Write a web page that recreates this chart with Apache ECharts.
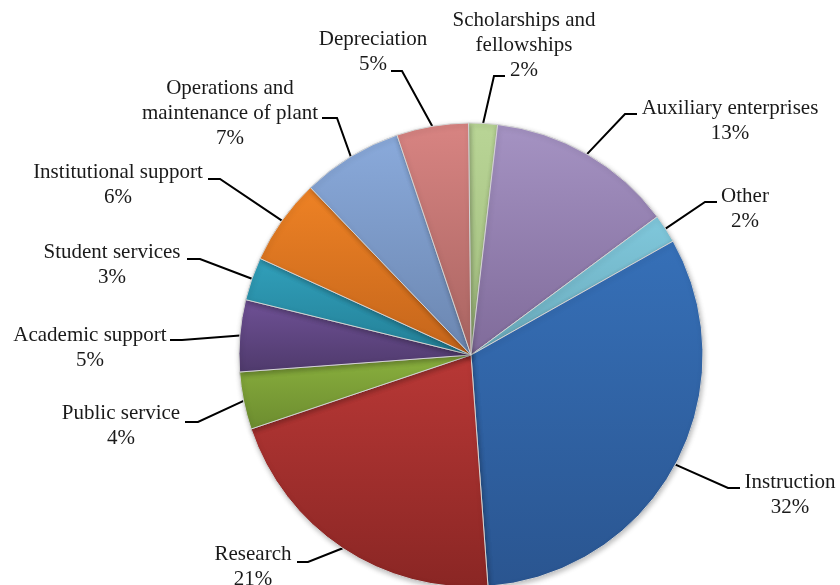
<!DOCTYPE html>
<html>
<head>
<meta charset="utf-8">
<script src="https://cdn.jsdelivr.net/npm/echarts@6/dist/echarts.min.js"></script>
<style>
  html, body { margin: 0; padding: 0; background: #ffffff; }
  #chart { width: 840px; height: 585px; }
</style>
</head>
<body>
<div id="chart"></div>
<script>
// Expense categories, clockwise from 12 o'clock
const categories = [
  'Scholarships and fellowships',
  'Auxiliary enterprises',
  'Other',
  'Instruction',
  'Research',
  'Public service',
  'Academic support',
  'Student services',
  'Institutional support',
  'Operations and maintenance of plant',
  'Depreciation'
];
// Share of total expenses, percent
const shares = [2, 13, 2, 32, 21, 4, 5, 3, 6, 7, 5];

// Manual line breaks for the long names
const labelBreaks = {
  'Scholarships and fellowships': 'Scholarships and\nfellowships',
  'Operations and maintenance of plant': 'Operations and\nmaintenance of plant'
};

// Slice shading: lighter at the top of each slice, darker at the bottom
const topColors = ['#b9d596', '#a593c3', '#80c8dc', '#3670b8', '#b83836', '#8ab03e',
                   '#6f5196', '#31a0bb', '#ee8225', '#8aaadb', '#d88482'];
const bottomColors = ['#9fba7c', '#806b9a', '#6aaabb', '#2a5590', '#8a2624', '#6c8c2f',
                      '#4f3a6c', '#237f96', '#c4651b', '#6b86b0', '#a86461'];

// Label placement: text block centre (x, y), leader elbow (x, y), leader end (x, y)
const labelSpots = [
  [524, 45, 494, 76, 505, 76],
  [730, 121, 625, 114, 637, 114],
  [745, 209, 705, 202, 717, 202],
  [790, 495, 728, 488, 740, 488],
  [253, 567, 308, 562, 297, 562],
  [121, 426, 198, 422, 185, 422],
  [90, 348, 182, 340, 170, 340],
  [112, 265, 200, 259, 187, 259],
  [118, 185, 220, 179, 208, 179],
  [230, 113, 337, 118, 322, 118],
  [373, 52, 402, 71, 391, 71]
];

const pieData = categories.map((name, i) => ({
  name: name,
  value: shares[i],
  itemStyle: {
    color: {
      type: 'linear', x: 0, y: 0, x2: 0, y2: 1,
      colorStops: [
        { offset: 0, color: topColors[i] },
        { offset: 1, color: bottomColors[i] }
      ]
    }
  }
}));

const chart = echarts.init(document.getElementById('chart'), null, { renderer: 'canvas' });

chart.setOption({
  backgroundColor: '#ffffff',
  animation: false,
  series: [{
    type: 'pie',
    center: [471, 355],
    radius: 232,
    startAngle: 90.6,
    clockwise: true,
    avoidLabelOverlap: false,
    data: pieData,
    itemStyle: {
      borderColor: '#d4d4d4',
      borderWidth: 1,
      shadowBlur: 5,
      shadowOffsetX: 1,
      shadowOffsetY: 2,
      shadowColor: 'rgba(0,0,0,0.25)'
    },
    label: {
      show: true,
      position: 'outside',
      fontFamily: 'Liberation Serif, Times New Roman, serif',
      fontSize: 21,
      lineHeight: 25,
      color: '#1a1a1a',
      formatter: function (p) {
        return (labelBreaks[p.name] || p.name) + '\n' + p.value + '%';
      }
    },
    labelLine: {
      show: true,
      smooth: false,
      lineStyle: { color: '#000000', width: 2 }
    },
    emphasis: { disabled: true },
    labelLayout: function (params) {
      const s = labelSpots[params.dataIndex];
      const start = params.labelLinePoints[0];
      return {
        x: s[0],
        y: s[1],
        align: 'center',
        verticalAlign: 'middle',
        labelLinePoints: [start, [s[2], s[3]], [s[4], s[5]]]
      };
    }
  }]
});
</script>
</body>
</html>
